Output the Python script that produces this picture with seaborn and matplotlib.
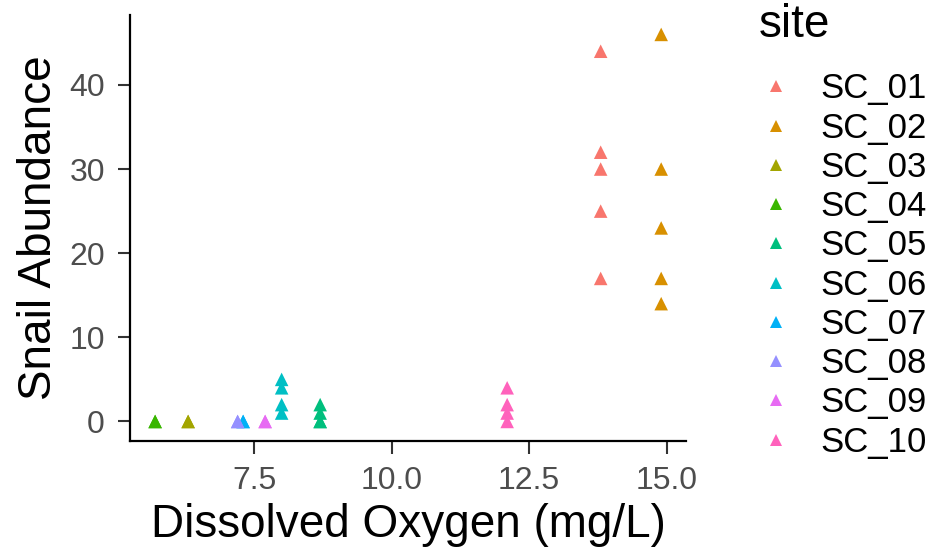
import numpy as np
import pandas as pd
import matplotlib
matplotlib.use("Agg")
import matplotlib.pyplot as plt
import seaborn as sns

# Datos
sites = ["SC_01", "SC_02", "SC_03", "SC_04", "SC_05",
         "SC_06", "SC_07", "SC_08", "SC_09", "SC_10"]
do_site = [13.8, 14.9, 6.3, 5.7, 8.7, 8.0, 7.3, 7.2, 7.7, 12.1]
snails = {
    "SC_01": [44, 32, 30, 25, 17],
    "SC_02": [46, 30, 23, 17, 14],
    "SC_03": [0, 0],
    "SC_04": [0, 0],
    "SC_05": [2, 1, 0, 0],
    "SC_06": [5, 4, 2, 1],
    "SC_07": [0, 0],
    "SC_08": [0, 0],
    "SC_09": [0, 0],
    "SC_10": [4, 2, 1, 0],
}
colors = ["#F8766D", "#D89000", "#A3A500", "#39B600", "#00BF7D",
          "#00BFC4", "#00B0F6", "#9590FF", "#E76BF3", "#FF62BC"]

rows = []
for s, x in zip(sites, do_site):
    for v in snails[s]:
        rows.append({"site": s, "do": x, "snails": v})
df = pd.DataFrame(rows)

sns.set_theme(style="ticks")
plt.rcParams["font.family"] = ["Liberation Sans", "DejaVu Sans"]
plt.rcParams["text.color"] = "black"
plt.rcParams["axes.labelcolor"] = "black"

fig = plt.figure(figsize=(9.34, 5.58), dpi=100)
ax = fig.add_axes([0.139, 0.21, 0.596, 0.763])

sns.scatterplot(data=df, x="do", y="snails", hue="site", hue_order=sites,
                palette=colors, marker="^", s=95, linewidth=0, ax=ax)

ax.set_xlim(5.24, 15.36)
ax.set_ylim(-2.3, 48.3)
ax.set_xticks([7.5, 10.0, 12.5, 15.0])
ax.set_xticklabels(["7.5", "10.0", "12.5", "15.0"])
ax.set_yticks([0, 10, 20, 30, 40])
ax.tick_params(labelsize=23, labelcolor="#4D4D4D", color="#333333",
               length=9, width=1.5, pad=9)
for sp in ["left", "bottom"]:
    ax.spines[sp].set_linewidth(1.6)
    ax.spines[sp].set_color("black")
sns.despine(ax=ax)
ax.set_xlabel("Dissolved Oxygen (mg/L)", fontsize=33, labelpad=5)
ax.set_ylabel("Snail Abundance", fontsize=33, labelpad=6)

leg = ax.legend(title="site", loc="upper left",
                bbox_to_anchor=(0.812, 0.995), bbox_transform=fig.transFigure,
                frameon=False, fontsize=25, title_fontsize=33,
                borderpad=0, borderaxespad=0, labelspacing=0.18,
                handlelength=1.0, handletextpad=0.78, markerscale=0.85)
leg._legend_box.align = "left"
leg._legend_box.sep = 18.5

fig.savefig("out.png", dpi=100)
